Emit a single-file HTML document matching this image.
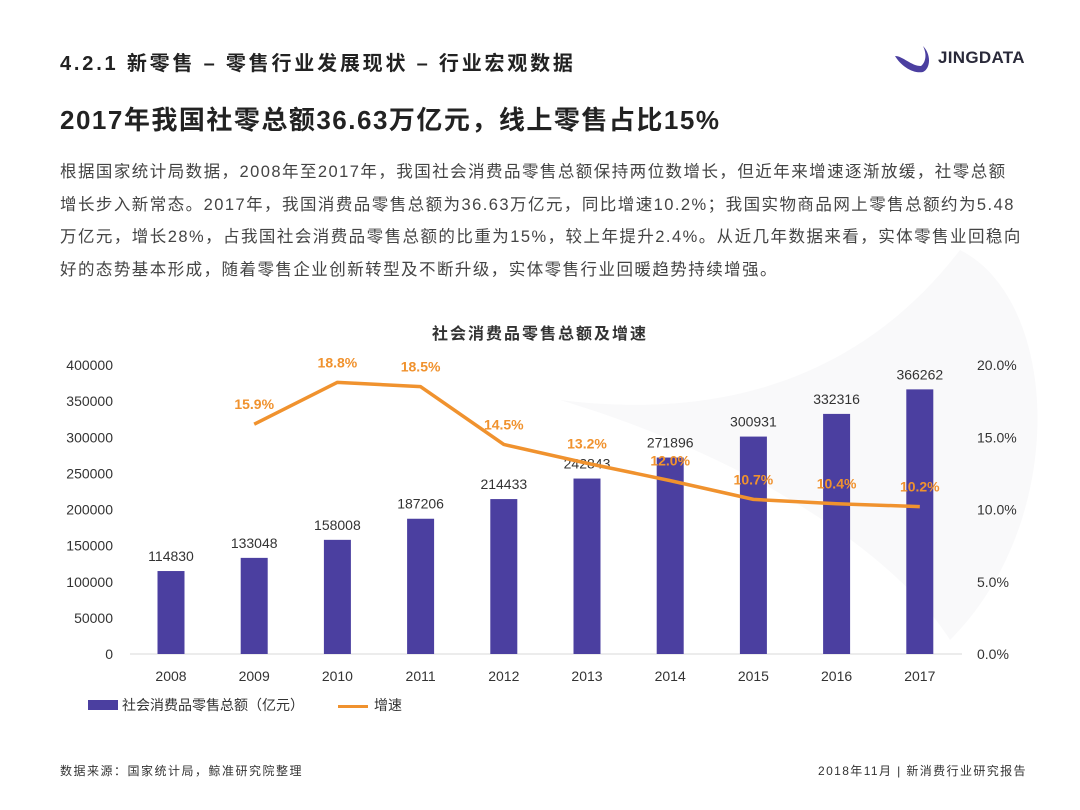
<!DOCTYPE html>
<html><head><meta charset="utf-8">
<style>
body{margin:0;width:1080px;height:810px;background:#fff;position:relative;overflow:hidden;font-family:"Liberation Sans","Noto Sans CJK SC",sans-serif;color:#333}
.abs{position:absolute;white-space:nowrap}
</style></head><body>
<svg class="abs" style="left:0;top:0" width="1080" height="810">
<path d="M960 250 C1060 300 1070 520 950 640 C900 560 760 460 560 400 C720 420 860 380 960 250Z" fill="#f9f9fa"/>
</svg>
<div class="abs" style="left:60px;top:47px;font-size:20px;font-weight:bold;color:#222;letter-spacing:2.8px">4.2.1 新零售 – 零售行业发展现状 – 行业宏观数据</div>
<div class="abs" style="left:893px;top:44px;">
<svg width="40" height="30"><path d="M2 12 C10 12 18 22 28 22 C33 18 34 10 30 2 C38 10 38 24 30 28 C20 30 8 22 2 12Z" fill="#4b3fa0"/></svg>
<span style="position:absolute;left:45px;top:4px;font-size:17px;font-weight:bold;color:#2a2a3a;letter-spacing:0.3px">JINGDATA</span></div>
<div class="abs" style="left:60px;top:100px;font-size:26px;font-weight:bold;color:#222;letter-spacing:1.5px">2017年我国社零总额36.63万亿元，线上零售占比15%</div>
<div class="abs" style="left:60px;top:156px;font-size:16.5px;line-height:32.7px;color:#444;letter-spacing:1.45px">
<div>根据国家统计局数据，2008年至2017年，我国社会消费品零售总额保持两位数增长，但近年来增速逐渐放缓，社零总额</div>
<div>增长步入新常态。2017年，我国消费品零售总额为36.63万亿元，同比增速10.2%；我国实物商品网上零售总额约为5.48</div>
<div>万亿元，增长28%，占我国社会消费品零售总额的比重为15%，较上年提升2.4%。从近几年数据来看，实体零售业回稳向</div>
<div>好的态势基本形成，随着零售企业创新转型及不断升级，实体零售行业回暖趋势持续增强。</div></div>
<div class="abs" style="left:0;width:1080px;text-align:center;top:320px;font-size:16px;font-weight:bold;color:#333;letter-spacing:2px">社会消费品零售总额及增速</div>
<svg id="chart" class="abs" style="left:0;top:0" width="1080" height="810"></svg>
<div class="abs" style="left:88px;top:695px;font-size:14px;color:#333"><span style="display:inline-block;width:30px;height:10px;background:#4b3fa0;margin-right:4px"></span>社会消费品零售总额（亿元）</div>
<div class="abs" style="left:338px;top:695px;font-size:14px;color:#333"><span style="display:inline-block;width:30px;height:3px;background:#f0922e;vertical-align:middle;margin-right:6px"></span>增速</div>
<div class="abs" style="left:60px;top:762px;font-size:12px;color:#333;letter-spacing:1.5px">数据来源：国家统计局，鲸准研究院整理</div>
<div class="abs" style="left:818px;top:762px;font-size:12px;color:#333;letter-spacing:1.4px">2018年11月 | 新消费行业研究报告</div>
<script>
const years=['2008','2009','2010','2011','2012','2013','2014','2015','2016','2017'];
const sales=[114830,133048,158008,187206,214433,242843,271896,300931,332316,366262];
const growth=[null,15.9,18.8,18.5,14.5,13.2,12.0,10.7,10.4,10.2];
const leftTicks=[0,50000,100000,150000,200000,250000,300000,350000,400000];
const rightTicks=[0,5,10,15,20];
const svg=document.getElementById('chart');const NS='http://www.w3.org/2000/svg';
const y0=654,y1=365;
const yL=v=>y0-(v/400000)*(y0-y1);
const yR=v=>y0-(v/20)*(y0-y1);
const xC=i=>171+i*83.2;
function mk(t,a,txt){const e=document.createElementNS(NS,t);for(const k in a)e.setAttribute(k,a[k]);if(txt!=null)e.textContent=txt;svg.appendChild(e);return e;}
let ax=mk('line',{x1:130,x2:962,y1:y0,y2:y0,stroke:'#d9d9d9'});


leftTicks.forEach(v=>{const t=mk('text',{x:113,y:yL(v)+5,'text-anchor':'end','font-size':14,fill:'#333'},String(v));

});
rightTicks.forEach(v=>{const t=mk('text',{x:977,y:yR(v)+5,'font-size':14,fill:'#333'},v.toFixed(1)+'%');

});
years.forEach((yr,i)=>{
const b=mk('rect',{x:xC(i)-13.5,y:yL(sales[i]),width:27,height:y0-yL(sales[i]),fill:'#4b3fa0'});


const l=mk('text',{x:xC(i),y:yL(sales[i])-10,'text-anchor':'middle','font-size':14,fill:'#333'},String(sales[i]));


const x=mk('text',{x:xC(i),y:681,'text-anchor':'middle','font-size':14,fill:'#333'},yr);

});
let pts=[];growth.forEach((g,i)=>{if(g!=null)pts.push(xC(i)+','+yR(g));});
const pl=mk('polyline',{points:pts.join(' '),fill:'none',stroke:'#f0922e','stroke-width':3.5,'stroke-linejoin':'round'});


growth.forEach((g,i)=>{if(g==null)return;
const t=mk('text',{x:xC(i),y:yR(g)-15,'text-anchor':'middle','font-size':14,'font-weight':'bold',fill:'#f0922e'},g.toFixed(1)+'%');

});
</script>
</body></html>
